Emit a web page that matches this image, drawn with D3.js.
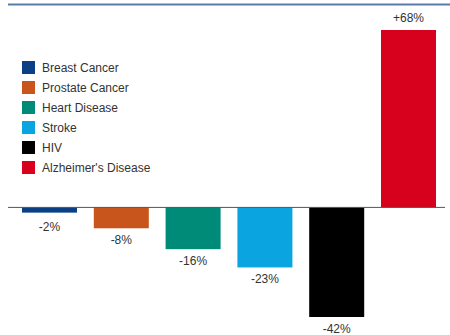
<!DOCTYPE html>
<html>
<head>
<meta charset="utf-8">
<script src="https://cdn.jsdelivr.net/npm/d3@7"></script>
<style>
  body { margin: 0; background: #fff; }
  svg { display: block; }
</style>
</head>
<body>
<div class="canvas"></div>
<script>
// data
const categories = ['Breast Cancer', 'Prostate Cancer', 'Heart Disease', 'Stroke', 'HIV', "Alzheimer's Disease"];
const changes = [-2, -8, -16, -23, -42, 68];
const labels = ['-2%', '-8%', '-16%', '-23%', '-42%', '+68%'];
const colors = ['#0b3f86', '#c8561c', '#008a78', '#0aa5e0', '#000000', '#d7001d'];

const width = 450, height = 335;

const svg = d3.select('.canvas')
    .append('svg')
    .attr('width', width)
    .attr('height', height);

// blue rule across the top
svg.append('line')
    .attr('x1', 8).attr('x2', 450)
    .attr('y1', 4.5).attr('y2', 4.5)
    .attr('stroke', '#5a7aa8')
    .attr('stroke-width', 2);

const x = d3.scaleBand()
    .domain(categories)
    .range([13.6, 444.4])
    .paddingInner(0.234)
    .paddingOuter(0.117);

// zero line at ~208, +68 reaches ~30
const y = d3.scaleLinear()
    .domain([-42, 68])
    .range([317, 30]);

const data = categories.map((c, i) => ({ name: c, value: changes[i], label: labels[i], color: colors[i] }));

svg.selectAll('rect.bar')
    .data(data)
    .enter()
    .append('rect')
    .attr('class', 'bar')
    .attr('x', d => x(d.name))
    .attr('width', x.bandwidth())
    .attr('y', d => y(Math.max(0, d.value)))
    .attr('height', d => Math.abs(y(d.value) - y(0)))
    .attr('fill', d => d.color);

// baseline
svg.append('line')
    .attr('x1', 8).attr('x2', 445)
    .attr('y1', y(0)).attr('y2', y(0))
    .attr('stroke', '#555')
    .attr('stroke-width', 1);

// value labels (small bars get a bit more room)
svg.selectAll('text.val')
    .data(data)
    .enter()
    .append('text')
    .attr('class', 'val')
    .attr('x', d => x(d.name) + x.bandwidth() / 2)
    .attr('y', d => d.value >= 0 ? y(d.value) - 8 : Math.max(y(d.value), y(0) + 8) + 16)
    .attr('text-anchor', 'middle')
    .attr('font-family', 'Liberation Sans, Arial, sans-serif')
    .attr('font-size', 12)
    .attr('fill', '#333')
    .text(d => d.label);

// legend
const legend = svg.append('g')
    .attr('transform', 'translate(22,61)');

const items = legend.selectAll('g')
    .data(data)
    .enter()
    .append('g')
    .attr('transform', (d, i) => `translate(0, ${i * 20})`);

items.append('rect')
    .attr('width', 13)
    .attr('height', 13)
    .attr('fill', d => d.color);

items.append('text')
    .attr('x', 20)
    .attr('y', 10.5)
    .attr('font-family', 'Liberation Sans, Arial, sans-serif')
    .attr('font-size', 12)
    .attr('fill', '#333')
    .text(d => d.name);
</script>
</body>
</html>
